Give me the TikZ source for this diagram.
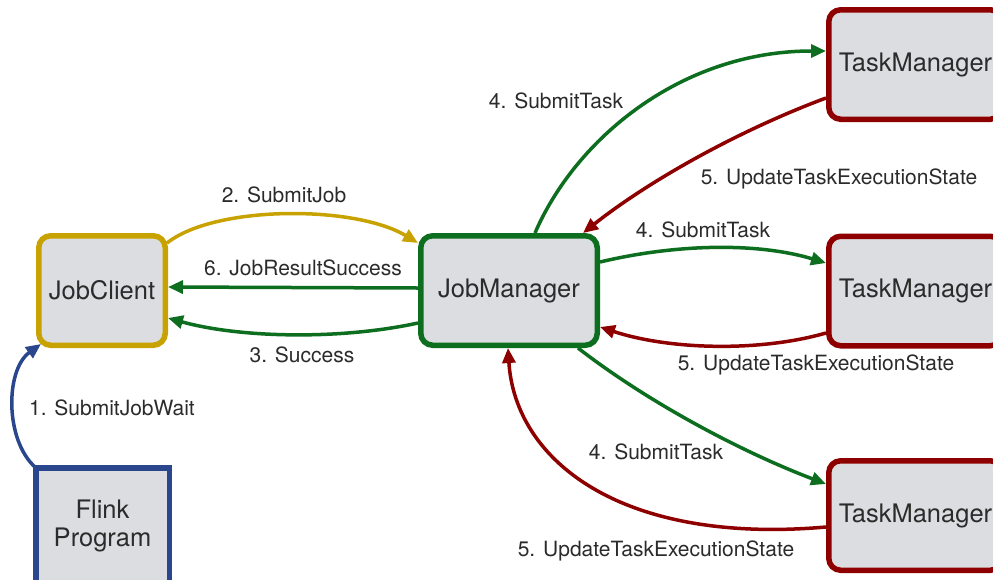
\documentclass[tikz,border=0pt]{standalone}
\usepackage{fontspec}
\setmainfont{TeX Gyre Heros}
\usetikzlibrary{arrows.meta,calc}

\definecolor{boxfill}{HTML}{DCDDE0}
\definecolor{txt}{HTML}{2B2B2B}
\definecolor{gold}{HTML}{C8A200}
\definecolor{dgreen}{HTML}{0D6E20}
\definecolor{dred}{HTML}{8E0000}
\definecolor{dblue}{HTML}{2A468C}

\tikzset{
  box/.style={draw, fill=boxfill, line width=5.5pt, rounded corners=12pt,
    minimum width=126.5pt, minimum height=109.5pt, inner sep=0pt,
    text=txt, font=\fontsize{25.5}{28}\selectfont, align=center},
  jcbox/.style={box, draw=gold},
  jmbox/.style={box, draw=dgreen, minimum width=176.5pt},
  tmbox/.style={box, draw=dred, minimum width=173.5pt},
  fpbox/.style={box, draw=dblue, rounded corners=0pt, minimum width=133.5pt, minimum height=116.5pt},
  conn/.style={line width=3.5pt, -{Triangle[length=15pt,width=13pt]}},
  lbl/.style={text=txt, font=\fontsize{21}{24}\selectfont, inner sep=0pt}
}

\begin{document}
\begin{tikzpicture}[x=1pt,y=-1pt]
  \clip (0,0) rectangle (993,579);
  \fill[white] (0,0) rectangle (993,579);

  % components
  \node[jcbox] (jc) at (102,290.5) {JobClient};
  \node[jmbox] (jm) at (509,290.5) {\raisebox{-2pt}{JobManager}};
  \node[tmbox] (tm1) at (915.5,64.5) {TaskManager};
  \node[tmbox] (tm2) at (915.5,291) {TaskManager};
  \node[tmbox] (tm3) at (915.5,515.5) {TaskManager};
  \node[fpbox] (fp) at (102.5,526) {Flink\\Program};

  % client side
  \draw[conn, dblue] ($(fp.north west)+(2,2)$) .. controls (5,440) and (5,370) .. ($(jc.south west)+(5,-4)$);
  \draw[conn, gold] ($(jc.north east)+(-1,10)$) .. controls (215,205) and (355,205) .. ($(jm.north west)+(0,10)$);
  \draw[conn, dgreen] ($(jm.west)+(0,-2.5)$) -- ($(jc.east)+(0,-3.5)$);
  \draw[conn, dgreen] ($(jm.west)+(0,32.5)$) .. controls (340,340) and (240,338) .. ($(jc.east)+(0,27.5)$);

  % task managers
  \draw[conn, dgreen] ($(jm.north)+(26,0)$) .. controls (575,140) and (680,51) .. ($(tm1.west)+(0,-13.5)$);
  \draw[conn, dred] ($(tm1.south west)+(0,-24)$) .. controls (740,130) and (650,180) .. ($(jm.north east)+(-17,0)$);
  \draw[conn, dgreen] ($(jm.east)+(0,-28.5)$) .. controls (680,243) and (760,243) .. ($(tm2.west)+(0,-28)$);
  \draw[conn, dred] ($(tm2.west)+(0,42)$) .. controls (760,352) and (670,350) .. ($(jm.east)+(0,36.5)$);
  \draw[conn, dgreen] ($(jm.south east)+(-22,0)$) .. controls (649,403) and (742,452) .. ($(tm3.west)+(0,-31.5)$);
  \draw[conn, dred] ($(tm3.west)+(0,11.5)$) .. controls (620,545) and (515,460) .. ($(jm.south)+(-1,0)$);

  % labels
  \node[lbl] (l1) at (112,408) {1. SubmitJobWait};
  \node[lbl] (l2) at (284,195) {2. SubmitJob};
  \node[lbl] (l6) at (303,268) {6. JobResultSuccess};
  \node[lbl] (l3) at (302,355) {3. Success};
  \node[lbl] (l4a) at (556,101) {4. SubmitTask};
  \node[lbl] (l5a) at (839,179) {5. UpdateTaskExecutionState};
  \node[lbl] (l4b) at (703,230) {4. SubmitTask};
  \node[lbl] (l5b) at (816,365) {5. UpdateTaskExecutionState};
  \node[lbl] (l4c) at (656,452) {4. SubmitTask};
  \node[lbl] (l5c) at (656,551) {5. UpdateTaskExecutionState};
\end{tikzpicture}
\end{document}
